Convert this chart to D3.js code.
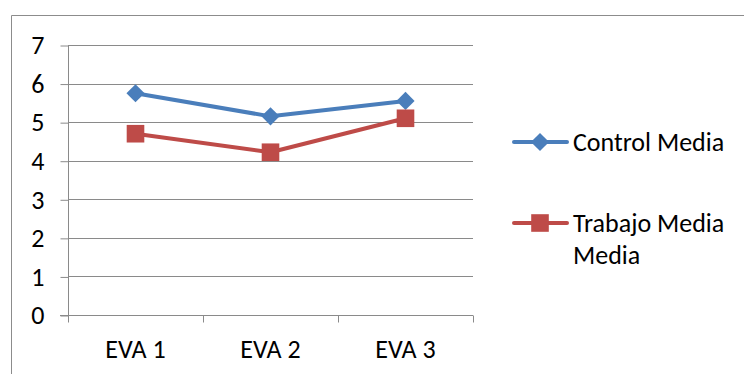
<!DOCTYPE html>
<html><head><meta charset="utf-8">
<script src="https://cdn.jsdelivr.net/npm/d3@7"></script>
<style>body{margin:0;background:#fff}svg{display:block}text{font-family:Calibri,Carlito,"Open Sans",sans-serif;fill:#000}</style>
</head><body><svg id="c" width="744" height="374"></svg>
<script>
const categories = ["EVA 1", "EVA 2", "EVA 3"];
const seriesNames = ["Control Media", "Trabajo Media Media"];
const controlValues = [5.75, 5.15, 5.55];
const trabajoValues = [4.7, 4.22, 5.1];
const yTicks = [0, 1, 2, 3, 4, 5, 6, 7];

const FONT = 'Calibri,Carlito,"Open Sans",sans-serif';
const svg = d3.select("#c");
const fs = 26;
// outer chart border (cropped at right/bottom)
svg.append("path").attr("d","M11.5,374 V15.5 H744").attr("fill","none").attr("stroke","#8c8c8c").attr("stroke-width",1);

const x = d3.scaleBand().domain(categories).range([68, 473]);
const y = d3.scaleLinear().domain([0, 7]).range([315, 45]);

// gridlines
svg.append("g").selectAll("line").data(yTicks.filter(d=>d>0)).join("line")
  .attr("x1",68).attr("x2",473).attr("y1",d=>Math.round(y(d))+0.5).attr("y2",d=>Math.round(y(d))+0.5)
  .attr("stroke","#8a8a8a").attr("stroke-width",1);

// y axis
const ya = svg.append("g").attr("transform","translate(68.5,0)")
  .call(d3.axisLeft(y).tickValues(yTicks).tickSize(8).tickPadding(16).tickFormat(d3.format("d")));
ya.selectAll("line").attr("stroke","#8a8a8a").attr("transform","translate(0,0.5)");
ya.select(".domain").attr("stroke","#8a8a8a").attr("d","M0,315.5V45.5");
ya.selectAll("text").attr("font-size",fs).attr("font-family",FONT).attr("fill","#000").attr("dy","0.34em");

// x axis
const xa = svg.append("g").attr("transform","translate(0,315.5)")
  .call(d3.axisBottom(x).tickSize(0).tickPadding(24));
xa.select(".domain").attr("stroke","#8a8a8a").attr("d","M60,0H473");
xa.selectAll("text").attr("font-size",fs).attr("font-family",FONT).attr("fill","#000");
const bounds = [x.range()[0]].concat(categories.map(c=>x(c)+x.bandwidth()));
xa.selectAll(".sep").data(bounds).join("line").attr("class","sep")
  .attr("x1",d=>Math.round(d)+0.5).attr("x2",d=>Math.round(d)+0.5).attr("y1",0).attr("y2",7)
  .attr("stroke","#8a8a8a");

const series = [
  {name: seriesNames[0], values: controlValues, color: "#4a7ebb", shape: d3.symbolSquare, size: 165, rot: 45},
  {name: seriesNames[1], values: trabajoValues, color: "#be4b48", shape: d3.symbolSquare, size: 310, rot: 0}
];
const line = d3.line().x((d,i)=>x(categories[i])+x.bandwidth()/2).y(d=>y(d));
series.forEach(s=>{
  svg.append("path").datum(s.values).attr("d",line).attr("fill","none")
    .attr("stroke",s.color).attr("stroke-width",4).attr("stroke-linejoin","round");
  svg.append("g").selectAll("path").data(s.values).join("path")
    .attr("transform",(d,i)=>`translate(${x(categories[i])+x.bandwidth()/2},${y(d)}) rotate(${s.rot})`)
    .attr("d",d3.symbol().type(s.shape).size(s.size)).attr("fill",s.color);
});

// legend
const leg = [{y:142, lines:["Control Media"]},{y:223, lines:["Trabajo Media","Media"]}];
series.forEach((s,i)=>{
  const g = svg.append("g");
  g.append("line").attr("x1",514).attr("x2",567).attr("y1",leg[i].y).attr("y2",leg[i].y)
    .attr("stroke",s.color).attr("stroke-width",4).attr("stroke-linecap","round");
  g.append("path").attr("transform",`translate(540,${leg[i].y}) rotate(${s.rot})`)
    .attr("d",d3.symbol().type(s.shape).size(s.size)).attr("fill",s.color);
  const t = g.append("text").attr("x",573).attr("y",leg[i].y+8.5).attr("font-size",fs);
  leg[i].lines.forEach((l,j)=>t.append("tspan").attr("x",573).attr("dy",j?32:0).text(l));
});
</script></body></html>
